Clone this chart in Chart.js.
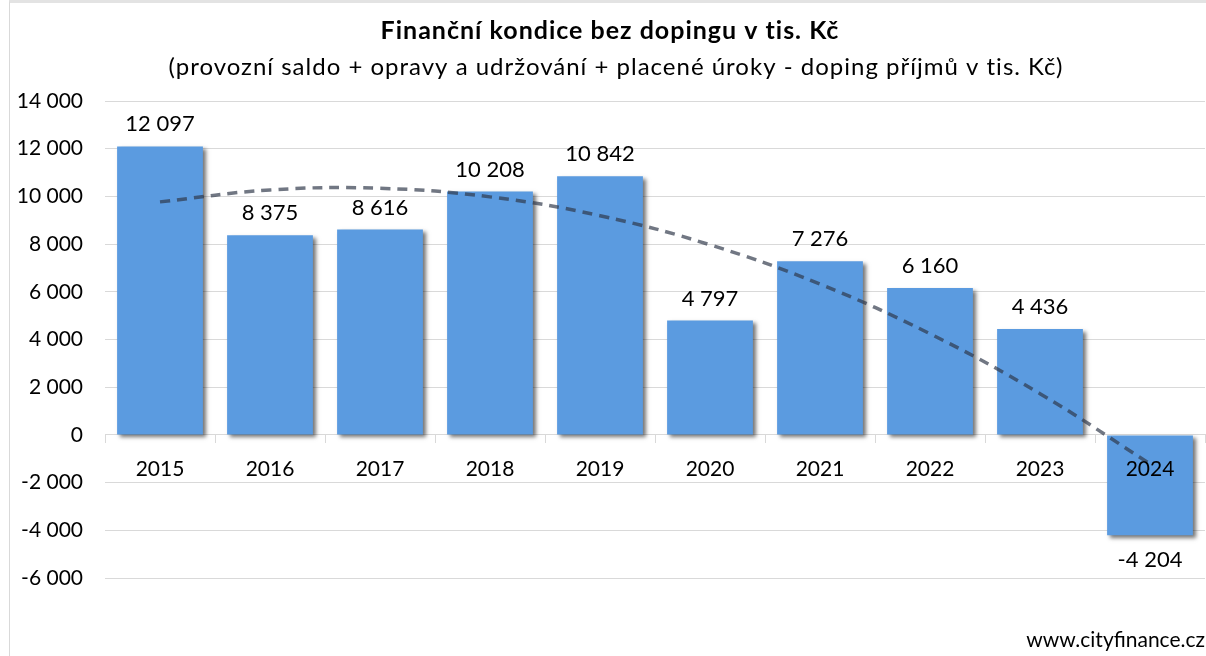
<!DOCTYPE html>
<html>
<head>
<meta charset="utf-8">
<script src="https://cdn.jsdelivr.net/npm/chart.js@4"></script>
<style>
  html, body { margin: 0; padding: 0; background: #fff; }
  .frame { position: absolute; left: 9px; top: 0; width: 1197px; height: 656px;
           border-left: 1px solid #d9d9d9; border-top: 3px solid #e3e3e3; box-sizing: border-box; }
  #wrap { position: absolute; left: 0; top: 0; width: 1206px; height: 656px; }
</style>
</head>
<body>
<div class="frame"></div>
<div id="wrap"><canvas id="myChart" width="1206" height="656"></canvas></div>
<script>
'use strict';
// =============== data ===============
const years = ['2015', '2016', '2017', '2018', '2019', '2020', '2021', '2022', '2023', '2024'];
const values = [12097, 8375, 8616, 10208, 10842, 4797, 7276, 6160, 4436, -4204];
// trend line
const trend = [9770, 10270, 10340, 9980, 9190, 7970, 6320, 4240, 1730, -1210];
const yTicks = [-6000, -4000, -2000, 0, 2000, 4000, 6000, 8000, 10000, 12000, 14000];

const FONT = 'Lato, "Noto Sans", sans-serif';

function fmt(v) {
    const s = Math.abs(v).toString().replace(/\B(?=(\d{3})+(?!\d))/g, ' ');
    return (v < 0 ? '-' : '') + s;
}

// =============== plugins ===============
const texts = {
    id: 'texts',
    afterDraw(chart) {
        const ctx = chart.ctx;
        ctx.save();
        ctx.fillStyle = '#000';
        ctx.textAlign = 'center';
        ctx.textBaseline = 'middle';
        ctx.letterSpacing = '1px';
        ctx.font = 'bold 25px ' + FONT;
        ctx.fillText('Finanční kondice bez dopingu v tis. Kč', 610, 31);
        ctx.font = '24px ' + FONT;
        ctx.fillText('(provozní saldo + opravy a udržování + placené úroky - doping příjmů v tis. Kč)', 616, 67);
        ctx.letterSpacing = '0px';
        ctx.textAlign = 'right';
        ctx.font = '21px ' + FONT;
        ctx.fillText('www.cityfinance.cz', 1205, 640);
        ctx.restore();
    }
};

const barLabels = {
    id: 'barLabels',
    afterDatasetsDraw(chart) {
        const ctx = chart.ctx;
        const meta = chart.getDatasetMeta(1);
        ctx.save();
        ctx.fillStyle = '#000';
        ctx.font = '22px ' + FONT;
        ctx.textAlign = 'center';
        ctx.textBaseline = 'middle';
        meta.data.forEach((bar, i) => {
            const v = values[i];
            ctx.fillText(fmt(v), bar.x, v >= 0 ? bar.y - 22 : bar.y + 25);
        });
        ctx.restore();
    }
};

const barShadow = {
    id: 'barShadow',
    beforeDatasetDraw(chart, args) {
        if (args.index !== 1) return;
        const ctx = chart.ctx;
        ctx.save();
        ctx.shadowColor = 'rgba(0,0,0,0.55)';
        ctx.shadowBlur = 4;
        ctx.shadowOffsetX = 3;
        ctx.shadowOffsetY = 3;
    },
    afterDatasetDraw(chart, args) {
        if (args.index !== 1) return;
        chart.ctx.restore();
    }
};

// =============== chart ===============
let myChart = document.getElementById('myChart').getContext('2d');

let BarChart = new Chart(myChart, {
    type: 'bar',
    data: {
        labels: years,
        datasets: [{
            type: 'line',
            data: trend,
            borderColor: 'rgba(45, 55, 72, 0.68)',
            borderWidth: 3.5,
            borderDash: [10, 7],
            pointRadius: 0,
            tension: 0.4,
            fill: false,
            order: 0
        }, {
            type: 'bar',
            data: values,
            backgroundColor: '#5b9be0',
            borderWidth: 0,
            categoryPercentage: 1,
            barPercentage: 0.78,
            order: 1
        }]
    },
    options: {
        responsive: false,
        animation: false,
        layout: {
            padding: { top: 101, right: 1, bottom: 78, left: 0 }
        },
        plugins: {
            legend: { display: false },
            tooltip: { enabled: false }
        },
        scales: {
            x: {
                position: { y: 0 },
                grid: {
                    offset: true,
                    drawOnChartArea: false,
                    tickLength: 8,
                    color: '#d9d9d9'
                },
                border: { color: '#d9d9d9' },
                ticks: {
                    z: 1,
                    padding: 14,
                    color: '#000',
                    font: { family: FONT, size: 21 }
                }
            },
            y: {
                min: -6000,
                max: 14000,
                afterFit(scale) { scale.width = 105; },
                afterBuildTicks(scale) { scale.ticks = yTicks.map(v => ({ value: v })); },
                grid: {
                    color: '#d9d9d9',
                    drawTicks: false
                },
                border: { display: false },
                ticks: {
                    padding: 22,
                    color: '#000',
                    font: { family: FONT, size: 21 },
                    callback: (v) => fmt(v)
                }
            }
        }
    },
    plugins: [barShadow, barLabels, texts]
});
</script>
</body>
</html>
